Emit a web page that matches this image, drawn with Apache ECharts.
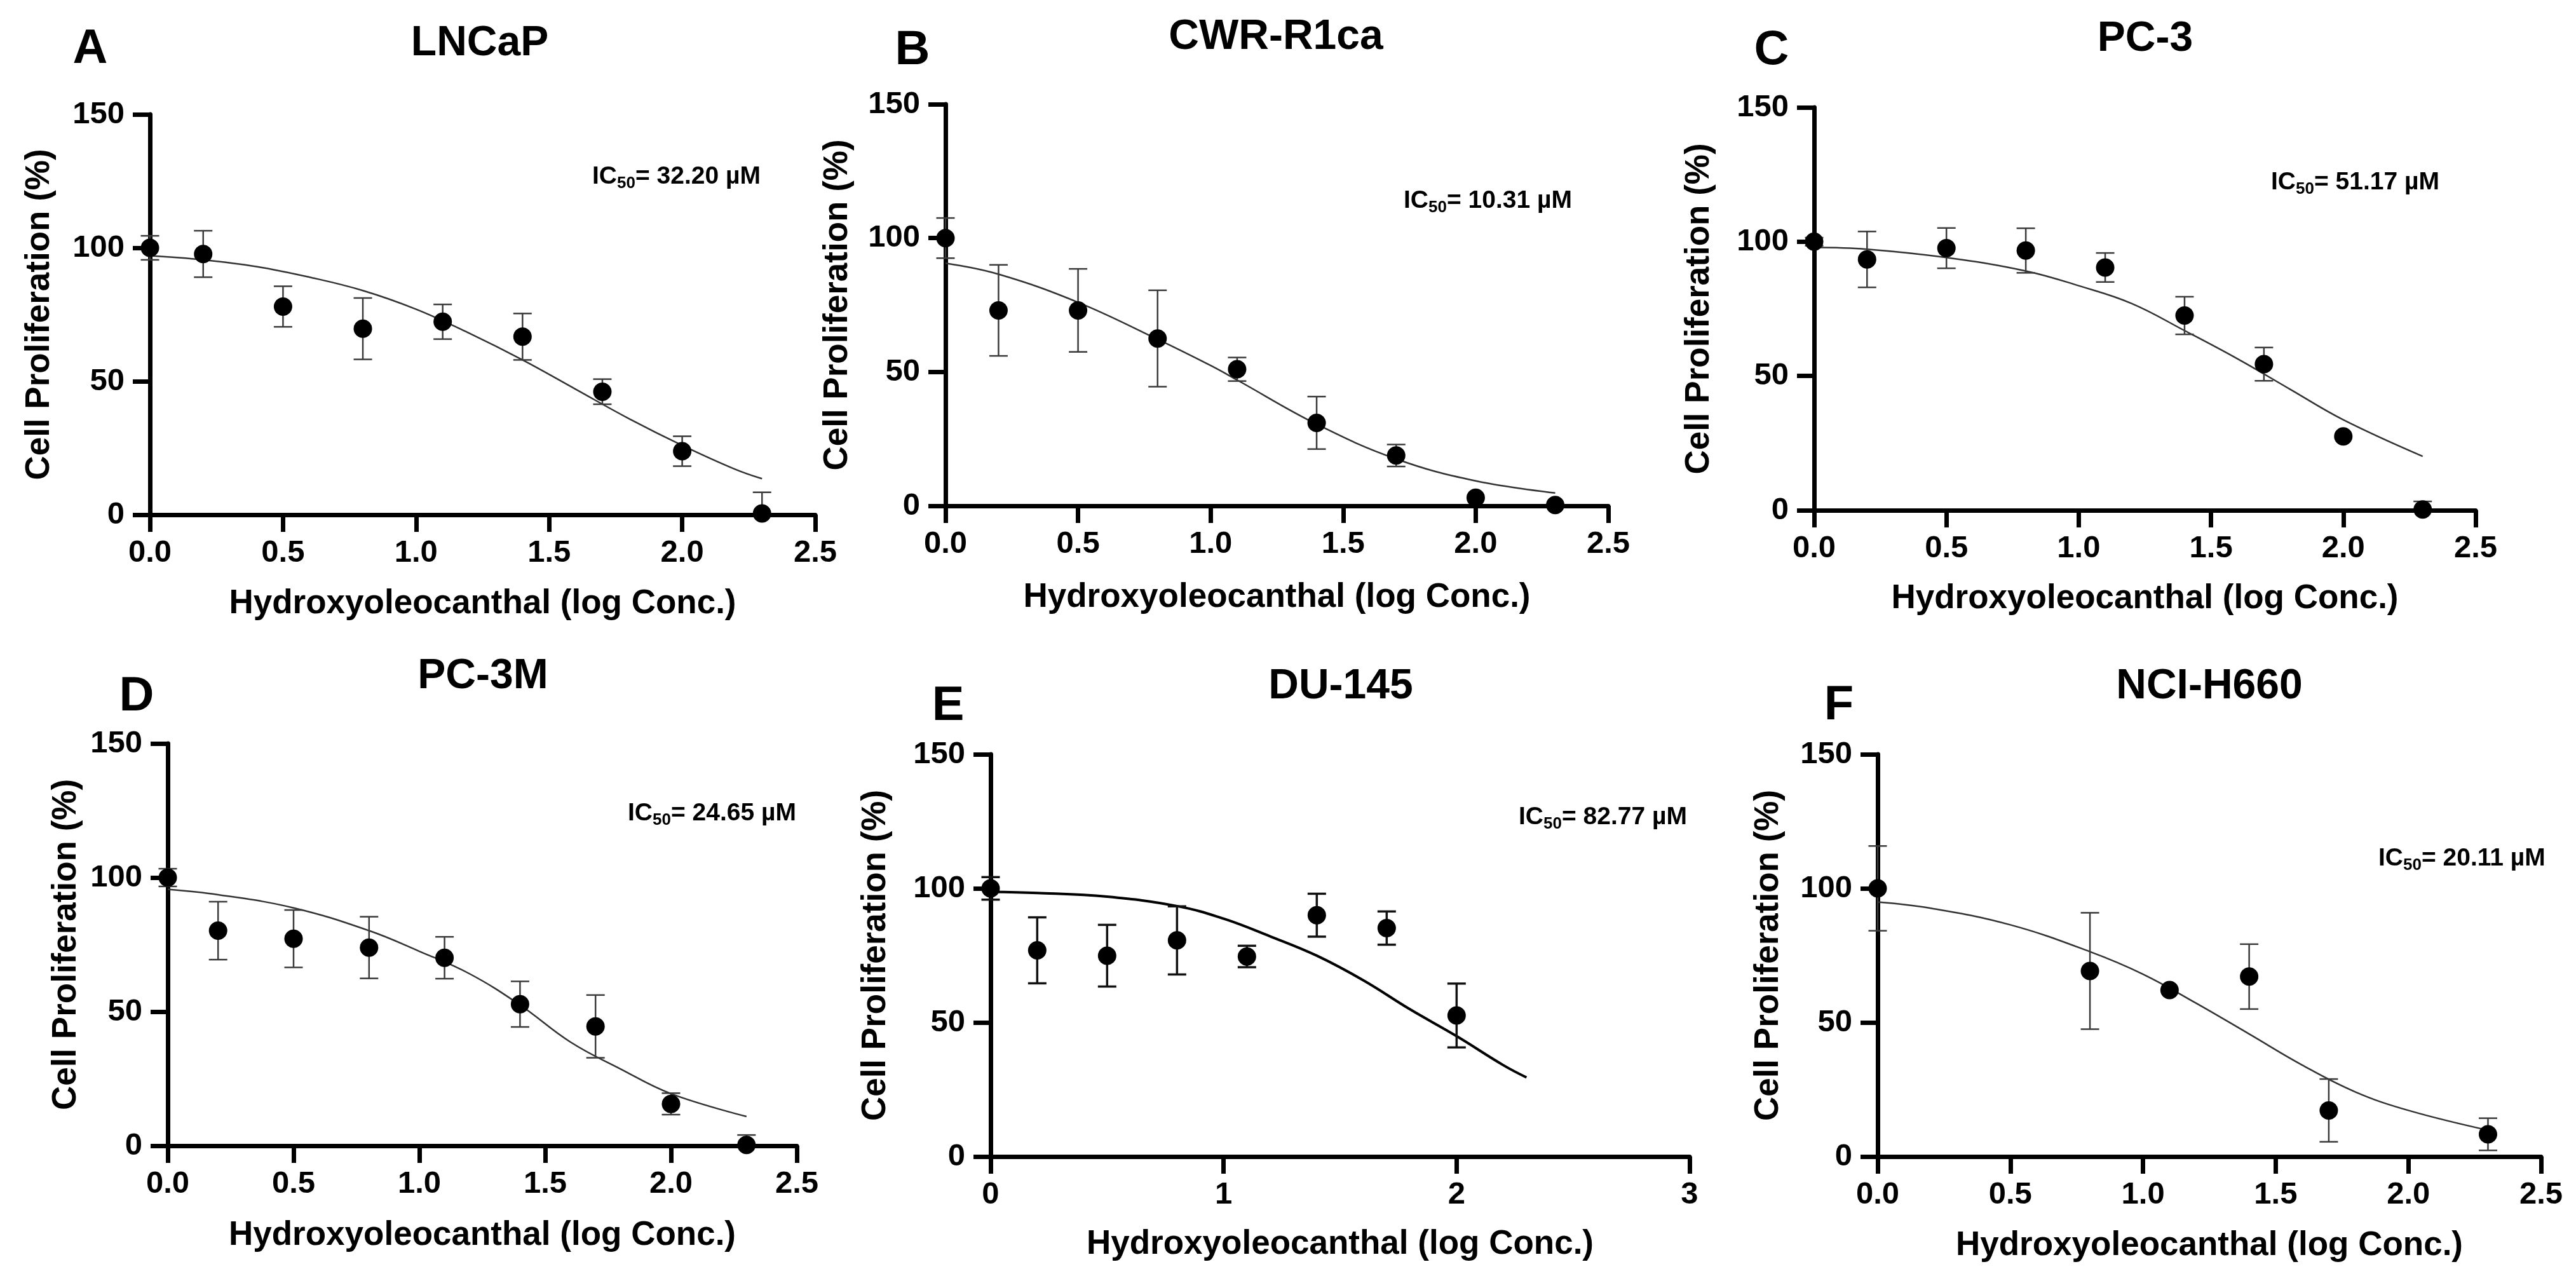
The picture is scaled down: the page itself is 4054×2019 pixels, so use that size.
<!DOCTYPE html>
<html>
<head>
<meta charset="utf-8">
<script src="https://cdn.jsdelivr.net/npm/echarts@6/dist/echarts.min.js"></script>
<style>
  html, body { margin: 0; padding: 0; background: #fff; }
  #chart { width: 4054px; height: 2019px; }
</style>
</head>
<body>
<div id="chart"></div>
<script>
// doses (log conc.)
const doseLog = [0, 0.2, 0.5, 0.8, 1.1, 1.4, 1.7, 2.0, 2.3];
const doseLogDU = [0, 0.2, 0.5, 0.8, 1.1, 1.4, 1.7, 2.0];
const doseLogNCI = [0, 0.8, 1.1, 1.4, 1.7, 2.3];

// A - LNCaP
const lncapMean = [100, 97.7, 78.0, 69.7, 72.3, 66.7, 46.1, 23.8, 0.5];
const lncapErr = [4.5, 8.7, 7.6, 11.5, 6.5, 8.7, 4.7, 5.6, 7.9];
const lncapFitX = [0, 0.2, 0.4, 0.6, 0.8, 1.0, 1.2, 1.4, 1.6, 1.8, 2.0, 2.2, 2.3];
const lncapFitY = [97, 95.5, 93, 89, 84, 77, 68, 58, 47, 36, 26, 17, 13.5];

// B - CWR-R1ca
const cwrMean = [100, 73, 73, 62.5, 51, 31, 18.8, 3, 0.3];
const cwrErr = [7.5, 17, 15.5, 18, 4.4, 9.8, 4.1, 0, 0];
const cwrFitX = [0, 0.2, 0.5, 0.8, 1.0, 1.1, 1.4, 1.7, 2.0, 2.3];
const cwrFitY = [90.6, 86.5, 76, 62.2, 52.4, 47, 30.5, 17.5, 9.3, 4.8];

// C - PC-3
const pc3Mean = [100, 93.4, 97.6, 96.7, 90.4, 72.5, 54.4, 27.5, 0.3];
const pc3Err = [1.5, 10.4, 7.5, 8.3, 5.4, 7, 6.2, 0, 3];
const pc3FitX = [0, 0.2, 0.5, 0.8, 1.0, 1.2, 1.4, 1.6, 1.8, 2.0, 2.3];
const pc3FitY = [97.9, 97.2, 94.1, 89.1, 83.6, 77, 66.9, 56.4, 45, 33.7, 20.1];

// D - PC-3M
const pc3mMean = [100, 80.2, 77.2, 73.9, 70.1, 52.8, 44.5, 15.6, 0.3];
const pc3mErr = [3.3, 10.8, 10.7, 11.5, 7.8, 8.5, 11.7, 4, 3.7];
const pc3mFitX = [0, 0.2, 0.5, 0.8, 1.0, 1.2, 1.4, 1.6, 1.8, 2.0, 2.3];
const pc3mFitY = [95.6, 93.6, 88.7, 80.2, 72.5, 64.1, 52.5, 38.7, 28.6, 19.4, 10.9];

// E - DU-145
const du145Mean = [100, 76.9, 74.9, 80.6, 74.6, 90, 85.2, 52.6];
const du145Err = [4.2, 12.3, 11.5, 12.7, 4, 8, 6.2, 11.9];
const du145FitX = [0, 0.2, 0.5, 0.8, 1.0, 1.2, 1.4, 1.6, 1.8, 2.0, 2.2, 2.3];
const du145FitY = [98.7, 98.3, 96.9, 93.4, 88.7, 82.1, 74.9, 65.7, 54.9, 44.9, 34.1, 29.5];

// F - NCI-H660
const nciMean = [100, 69.2, 62.1, 67.1, 17.2, 8.3];
const nciErr = [15.8, 21.7, 0, 12.1, 11.7, 6];
const nciFitX = [0, 0.2, 0.5, 0.8, 1.0, 1.2, 1.4, 1.6, 1.8, 2.0, 2.3];
const nciFitY = [94.9, 92.6, 86.4, 76.4, 68, 57.2, 45.7, 34.1, 24.1, 17.2, 9.8];

const yTicks = [0, 50, 100, 150];

const FONT = "'Liberation Sans', Arial, sans-serif";

const panels = [
  { letter: 'A', name: 'LNCaP', ic50: '32.20', x: doseLog, mean: lncapMean, err: lncapErr, fx: lncapFitX, fy: lncapFitY,
    grid: { left: 236, top: 180, width: 1047, height: 630 }, xMax: 2.5, xStep: 0.5,
    letterPos: [142, 78], titlePos: [755, 69], icPos: [932, 278], xGap: 114, yGap: 147 },
  { letter: 'B', name: 'CWR-R1ca', ic50: '10.31', x: doseLog, mean: cwrMean, err: cwrErr, fx: cwrFitX, fy: cwrFitY,
    grid: { left: 1488, top: 164, width: 1043, height: 632 }, xMax: 2.5, xStep: 0.5,
    letterPos: [1436, 80], titlePos: [2008, 59], icPos: [2209, 316], xGap: 118, yGap: 143 },
  { letter: 'C', name: 'PC-3', ic50: '51.17', x: doseLog, mean: pc3Mean, err: pc3Err, fx: pc3FitX, fy: pc3FitY,
    grid: { left: 2855, top: 169, width: 1041, height: 634 }, xMax: 2.5, xStep: 0.5,
    letterPos: [2788, 80], titlePos: [3376, 62], icPos: [3574, 287], xGap: 113, yGap: 154 },
  { letter: 'D', name: 'PC-3M', ic50: '24.65', x: doseLog, mean: pc3mMean, err: pc3mErr, fx: pc3mFitX, fy: pc3mFitY,
    grid: { left: 264, top: 1170, width: 990, height: 633 }, xMax: 2.5, xStep: 0.5,
    letterPos: [215, 1097], titlePos: [760, 1065], icPos: [988, 1280], xGap: 115, yGap: 133 },
  { letter: 'E', name: 'DU-145', ic50: '82.77', x: doseLogDU, mean: du145Mean, err: du145Err, fx: du145FitX, fy: du145FitY,
    grid: { left: 1559, top: 1187, width: 1100, height: 633 }, xMax: 3, xStep: 1,
    letterPos: [1492, 1112], titlePos: [2110, 1081], icPos: [2390, 1286], xGap: 112, yGap: 154, bold: true },
  { letter: 'F', name: 'NCI-H660', ic50: '20.11', x: doseLogNCI, mean: nciMean, err: nciErr, fx: nciFitX, fy: nciFitY,
    grid: { left: 2955, top: 1187, width: 1044, height: 633 }, xMax: 2.5, xStep: 0.5,
    letterPos: [2894, 1111], titlePos: [3477, 1081], icPos: [3743, 1351], xGap: 114, yGap: 145 }
];

const axisLineStyle = { color: '#000', width: 7 };
const tickStyle = { show: true, length: 27, lineStyle: { color: '#000', width: 7 } };
const labelStyle = { color: '#000', fontSize: 49, fontWeight: 'bold', fontFamily: FONT };
const nameStyle = { color: '#000', fontSize: 53, fontWeight: 'bold', fontFamily: FONT };

function errorBarItem(params, api) {
  const x = api.value(0), y = api.value(1), e = api.value(2);
  if (!e) return;
  const top = api.coord([x, y + e]);
  const lowVal = Math.max(y - e, 0);
  const bot = api.coord([x, lowVal]);
  const half = 14.5;
  const heavy = params.seriesName === 'E';
  const style = { stroke: heavy ? '#111' : '#3a3a3a', lineWidth: heavy ? 3.5 : 2.5 };
  const kids = [
    { type: 'line', shape: { x1: top[0], y1: top[1], x2: bot[0], y2: bot[1] }, style },
    { type: 'line', shape: { x1: top[0] - half, y1: top[1], x2: top[0] + half, y2: top[1] }, style }
  ];
  if (lowVal > 0) {
    kids.push({ type: 'line', shape: { x1: bot[0] - half, y1: bot[1], x2: bot[0] + half, y2: bot[1] }, style });
  }
  return { type: 'group', children: kids };
}

const grid = [], xAxis = [], yAxis = [], series = [], graphic = [];

panels.forEach((p, i) => {
  grid.push(p.grid);
  xAxis.push({
    type: 'value', gridIndex: i, min: 0, max: p.xMax, interval: p.xStep,
    name: 'Hydroxyoleocanthal (log Conc.)', nameLocation: 'middle', nameGap: p.xGap, nameTextStyle: nameStyle,
    axisLine: { onZero: false, lineStyle: axisLineStyle },
    axisTick: tickStyle,
    axisLabel: Object.assign({ margin: 36, formatter: v => p.xStep < 1 ? v.toFixed(1) : String(v) }, labelStyle),
    splitLine: { show: false }
  });
  yAxis.push({
    type: 'value', gridIndex: i, min: yTicks[0], max: yTicks[yTicks.length - 1], interval: yTicks[1] - yTicks[0],
    name: 'Cell Proliferation (%)', nameLocation: 'middle', nameRotate: 90, nameGap: p.yGap, nameTextStyle: nameStyle,
    axisLine: { onZero: false, lineStyle: axisLineStyle },
    axisTick: tickStyle,
    axisLabel: Object.assign({ margin: 40 }, labelStyle),
    splitLine: { show: false }
  });

  series.push({
    type: 'line', name: p.letter + '-fit', xAxisIndex: i, yAxisIndex: i,
    data: p.fx.map((v, k) => [v, p.fy[k]]),
    smooth: 0.4, showSymbol: false, symbol: 'none', silent: true,
    lineStyle: { color: p.bold ? '#000' : '#333', width: p.bold ? 4 : 2.5 },
    z: 2
  });
  series.push({
    type: 'custom', name: p.letter, xAxisIndex: i, yAxisIndex: i,
    data: p.x.map((v, k) => [v, p.mean[k], p.err[k]]),
    encode: { x: 0, y: 1 },
    renderItem: errorBarItem, z: 3
  });
  series.push({
    type: 'scatter', name: p.letter + '-pts', xAxisIndex: i, yAxisIndex: i,
    data: p.x.map((v, k) => [v, p.mean[k]]),
    symbol: 'circle', symbolSize: 29,
    itemStyle: { color: '#000', opacity: 1 }, z: 4
  });

  graphic.push({
    type: 'text', x: p.letterPos[0], y: p.letterPos[1],
    style: { text: p.letter, fill: '#000', font: 'bold 76px ' + FONT, align: 'center', verticalAlign: 'middle' }
  });
  graphic.push({
    type: 'text', x: p.titlePos[0], y: p.titlePos[1],
    style: { text: p.name, fill: '#000', font: 'bold 66px ' + FONT, align: 'center', verticalAlign: 'middle' }
  });
  graphic.push({
    type: 'text', x: p.icPos[0], y: p.icPos[1],
    style: {
      text: '{m|IC}{s|50}{m|= ' + p.ic50 + ' µM}',
      align: 'left', verticalAlign: 'middle',
      rich: {
        m: { fill: '#000', fontSize: 39, fontWeight: 'bold', fontFamily: FONT, lineHeight: 48, verticalAlign: 'middle' },
        s: { fill: '#000', fontSize: 26, fontWeight: 'bold', fontFamily: FONT, lineHeight: 26, verticalAlign: 'bottom' }
      }
    }
  });
});

const chart = echarts.init(document.getElementById('chart'), null, { renderer: 'canvas' });
chart.setOption({
  backgroundColor: '#fff',
  animation: false,
  grid, xAxis, yAxis, series, graphic
});
</script>
</body>
</html>
